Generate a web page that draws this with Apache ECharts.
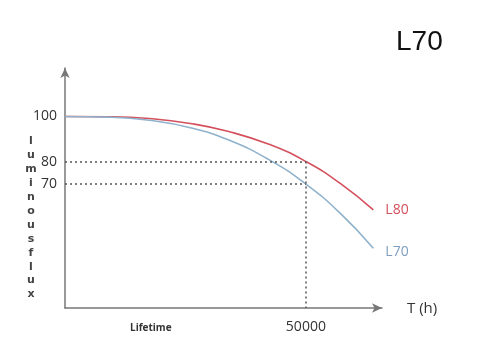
<!DOCTYPE html>
<html><head><meta charset="utf-8">
<script src="https://cdn.jsdelivr.net/npm/echarts@6/dist/echarts.min.js"></script>
<style>html,body{margin:0;padding:0;background:#fff}#c{width:481px;height:359px}</style>
</head><body><div id="c"></div>
<script>
var hours = [0, 9000, 17500, 26000, 34000, 42500, 50000, 57000, 64000];
var l80 = [100, 99.9, 99.1, 96.9, 93.3, 87.5, 80, 70.5, 58.5];
var l70 = [100, 99.7, 98.3, 95.0, 89.5, 80.6, 70, 57.3, 41.5];
var yTicks = [70, 80, 100];
var xTicks = [50000];
var yAxisTitle = 'luminous flux';

function pairs(xs, ys){ return xs.map(function(x,i){return [x, ys[i]];}); }

var chart = echarts.init(document.getElementById('c'));
var dash = {color:'#555', width:1.5, type:[2,3]};
chart.setOption({
  animation:false,
  grid:{left:65, right:99, top:68, bottom:51},
  xAxis:{type:'value', min:0, max:65800,
    axisLine:{show:true, symbol:['none','arrow'], symbolSize:[7,10], lineStyle:{color:'#777', width:1.5}},
    axisTick:{show:false}, splitLine:{show:false},
    axisLabel:{customValues:xTicks, formatter:function(v){return String(v);}, color:'#333', fontSize:14, fontFamily:'Open Sans', margin:12}},
  yAxis:{type:'value', min:15, max:121.5,
    axisLine:{show:true, symbol:['none','arrow'], symbolSize:[7,10], lineStyle:{color:'#777', width:1.5}},
    axisTick:{show:false}, splitLine:{show:false},
    axisLabel:{customValues:yTicks, formatter:function(v){return String(v);}, color:'#333', fontSize:14, fontFamily:'Open Sans', margin:8}},
  series:[
    {name:'L80', type:'line', smooth:0.5, symbol:'none', data:pairs(hours,l80),
      lineStyle:{color:'#d4505c', width:1.6},
      endLabel:{show:true, formatter:'L80', color:'#d4505c', fontSize:14, fontFamily:'Open Sans', offset:[4,0]},
      markLine:{silent:true, symbol:'none', label:{show:false}, lineStyle:dash,
        data:[[{coord:[0,80]},{coord:[50000,80]}],[{coord:[0,70]},{coord:[50000,70]}],[{coord:[50000,80]},{coord:[50000,15]}]]}},
    {name:'L70', type:'line', smooth:0.5, symbol:'none', data:pairs(hours,l70),
      lineStyle:{color:'#8fb2cc', width:1.6},
      endLabel:{show:true, formatter:'L70', color:'#7f9fc0', fontSize:14, fontFamily:'Open Sans', offset:[4,4]}}
  ],
  graphic:[
    {type:'text', left:396, top:28, style:{text:'L70', font:'28px "Liberation Sans"', fill:'#111'}},
    {type:'text', left:407, top:301, style:{text:'T (h)', font:'15px "Open Sans"', fill:'#333'}},
    {type:'text', left:130, top:323, style:{text:'Lifetime', font:'bold 10px "Open Sans"', fill:'#333'}},
    {type:'text', x:31, y:218, style:{text:yAxisTitle.replace(' ','').split('').join('\n'), font:'bold 11px "DejaVu Sans"', fill:'#444', align:'center', verticalAlign:'middle', lineHeight:13.9}}
  ]
});
</script></body></html>
